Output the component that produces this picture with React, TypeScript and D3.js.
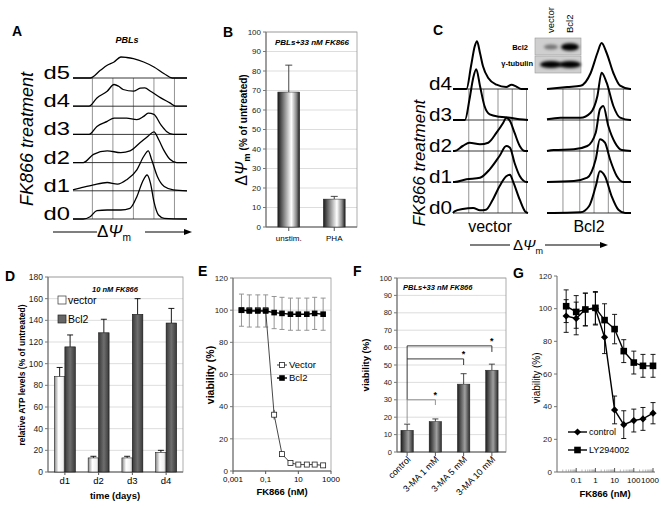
import React from "react";
import * as d3 from "d3";

const FONT = "'Liberation Sans', Arial, Helvetica, sans-serif";

// ---------- A: PBL histograms, [channel, count]
const aDays = ["d5", "d4", "d3", "d2", "d1", "d0"];
const aD5 = [[0, 0], [15, 0], [24, 7.7], [30, 12.7], [36, 16], [42, 21], [47, 20.5], [53, 19.3], [62, 16], [71, 11], [80, 4.3], [87, 0], [100, 0]];
const aD4 = [[0, 0], [14, 0], [21, 8.3], [30, 15], [36, 21.7], [40, 20], [44, 16.7], [53, 15], [59, 18], [63, 18.3], [68, 15], [77, 8.3], [85, 3.3], [90, 0], [100, 0]];
const aD3 = [[0, 0], [14, 0], [21, 8], [30, 13], [36, 16.3], [47, 16.3], [56, 14.7], [62, 18], [66, 21.3], [71, 20], [77, 9.7], [82, 3], [88, 0], [100, 0]];
const aD2 = [[0, 0], [9, 0], [18, 8.3], [30, 11.7], [42, 10], [50, 11.7], [59, 20], [66, 26.7], [71, 30.7], [75, 23.3], [80, 11.7], [85, 3.3], [91, 0], [100, 0]];
const aD1 = [[0, 1], [6, 2.7], [18, 6], [30, 8.3], [39, 6.7], [47, 11], [56, 21], [62, 34.3], [66, 40], [69, 31], [74, 14.3], [80, 4.3], [88, 1], [100, 0]];
const aD0 = [[0, 0], [9, 0], [15, 2.3], [21, 8.3], [30, 9], [42, 9], [50, 10.7], [56, 22.3], [61, 37.3], [65, 44], [68, 35.7], [71, 17.3], [75, 4], [80, 0.7], [100, 0]];
const aHists = [aD5, aD4, aD3, aD2, aD1, aD0];
const aGrid = [17, 35, 53, 71, 89];

// ---------- B
const bCats = ["unstim.", "PHA"];
const bVals = [69.2, 14.3];
const bErr = [13.8, 1.4];
const bTicks = [0, 10, 20, 30, 40, 50, 60, 70, 80, 90, 100];

// ---------- C: vector / Bcl2 histograms
const cDays = ["d4", "d3", "d2", "d1", "d0"];
const cVec4 = [[0, 0], [18, 0], [24, 22.7], [29, 42.7], [32, 47.7], [36, 36], [40, 22.7], [47, 11], [58, 4.3], [71, 2], [78, 4.3], [84, 2.7], [91, 0], [100, 0]];
const cVec3 = [[0, 0], [16, 0], [22, 20.7], [27, 42.3], [31, 50.7], [36, 34], [42, 14], [49, 5.7], [62, 3.3], [76, 2.3], [89, 0.7], [100, 0]];
const cVec2 = [[0, 0], [2, 0], [13, 5], [22, 8.3], [36, 6.7], [47, 8.3], [58, 18.3], [67, 28.3], [71, 33.3], [76, 30], [82, 18.3], [89, 5], [96, 0], [100, 0]];
const cVec1 = [[0, 0], [2, 0], [18, 2.7], [36, 4.3], [49, 12.7], [62, 26], [71, 36], [76, 34.3], [82, 19.3], [89, 6], [98, 0], [100, 0]];
const cVec0 = [[0, 0], [2, 1.7], [13, 4], [27, 5], [36, 2.7], [44, 3.3], [53, 13.3], [62, 26.7], [71, 36.7], [76, 38.3], [80, 31.7], [89, 13.3], [96, 1.7], [100, 0]];
const cBcl4 = [[0, 0], [24, 2], [40, 3.3], [52, 16], [60, 36], [65, 46], [71, 36], [79, 16], [87, 3.3], [99, 0], [100, 0]];
const cBcl3 = [[0, 0.7], [16, 2.3], [40, 2.3], [52, 7.3], [60, 24], [65, 47.3], [71, 37.3], [79, 14], [87, 2.3], [99, 0], [100, 0]];
const cBcl2 = [[0, 0], [8, 1], [32, 1.7], [48, 5], [58, 18.3], [63, 41.7], [67, 45], [73, 25], [81, 8.3], [89, 1], [100, 0]];
const cBcl1 = [[0, 0], [32, 1], [48, 4.3], [58, 22.7], [63, 42.7], [69, 39.3], [75, 22.7], [83, 6], [91, 0], [100, 0]];
const cBcl0 = [[0, 0], [8, 0], [40, 0.7], [50, 6.7], [58, 26.7], [63, 41.7], [69, 36.7], [77, 16.7], [85, 3.3], [93, 0], [100, 0]];
const cVecHists = [cVec4, cVec3, cVec2, cVec1, cVec0];
const cBclHists = [cBcl4, cBcl3, cBcl2, cBcl1, cBcl0];
const cGridL = [21, 41, 60, 79, 98];
const cGridR = [19, 39, 56, 73, 91];
const blotLanes = ["vector", "Bcl2"];
const blotBcl2 = [0.45, 1];
const blotTub = [1, 1];

// ---------- D
const dCats = ["d1", "d2", "d3", "d4"];
const dSeries = ["vector", "Bcl2"];
const dVector = [88, 13, 13, 18];
const dVectorErr = [8.5, 1.5, 1.5, 2];
const dBcl2 = [115.5, 128.5, 145.5, 137.5];
const dBcl2Err = [11, 12.5, 14.5, 13.5];
const dTicks = [0, 20, 40, 60, 80, 100, 120, 140, 160, 180];

// ---------- E
const eDose = [0.0033, 0.01, 0.033, 0.1, 0.33, 1, 3.3, 10, 33, 100, 330];
const eVector = [100, 100, 100, 100, 35, 10.5, 5, 4, 4, 4, 3.5];
const eVectorErr = [0, 0, 0, 0, 3, 1, 1, 0.5, 0.5, 0.5, 0.5];
const eBcl2 = [100, 99.5, 99.5, 99.5, 98.5, 98, 97.5, 97.5, 97.5, 98, 97.5];
const eBcl2Err = [10, 10, 10, 10, 10, 10, 10, 10, 10, 10, 10];
const eYTicks = [0, 20, 40, 60, 80, 100, 120];
const eXTicks = [0.001, 0.1, 10, 1000];
const eXLabels = ["0,001", "0,1", "10", "1000"];

// ---------- F
const fCats = ["control", "3-MA 1 mM", "3-MA 5 mM", "3-MA 10 mM"];
const fVals = [12.5, 17.5, 39, 47];
const fErr = [3.5, 1.5, 6, 3.5];
const fTicks = [0, 10, 20, 30, 40, 50, 60, 70, 80, 90, 100];
const fSig: [string, number, number][] = [["3-MA 1 mM", 30, 27], ["3-MA 5 mM", 53.5, 50], ["3-MA 10 mM", 61, 57.5]];

// ---------- G
const gDose = [0.03, 0.1, 0.3, 1, 3, 10, 30, 100, 300, 1000];
const gControl = [95.5, 94, 99.5, 100, 82.5, 38, 29, 31.5, 32.5, 36];
const gControlErr = [10, 10, 10, 10, 10, 8.5, 8.5, 7, 7, 6.5];
const gLY = [101.5, 98, 99.5, 100.5, 93, 87.5, 74, 67, 65, 65];
const gLYErr = [10, 10, 10, 10, 10, 9, 7, 7, 7, 7];
const gYTicks = [0, 20, 40, 60, 80, 100, 120];
const gXTicks = [0.1, 1, 10, 100, 1000];

const histLine = (x: any, base: number, h: any) =>
  d3.line<number[]>().x(d => x(d[0])).y(d => base - h(d[1])).curve(d3.curveMonotoneX);

const DPsi = ({ x, y, size, anchor = "middle", weight = "normal" }: any) => (
  <text x={x} y={y} fontSize={size} textAnchor={anchor} fontWeight={weight}>
    <tspan>Δ</tspan><tspan fontStyle="italic">Ψ</tspan>
    <tspan fontSize={size * 0.6} dy={size * 0.25}>m</tspan>
  </text>
);

const Arrow = ({ y, x1, x2, x3, x4 }: any) => (
  <g stroke="#000" strokeWidth={1.2}>
    <line x1={x1} x2={x2} y1={y} y2={y} />
    <line x1={x3} x2={x4 - 6} y1={y} y2={y} />
    <path d={`M${x4},${y} L${x4 - 8},${y - 3} L${x4 - 8},${y + 3} Z`} fill="#000" stroke="none" />
  </g>
);

const YAxis = ({ y, ticks, x, x2, grid = true, fs = 8 }: any) => (
  <g>
    {grid && ticks.map((t: number) => (
      <line key={"g" + t} x1={x} x2={x2} y1={y(t)} y2={y(t)} stroke="#d4d4d4" strokeWidth={0.8} />
    ))}
    {ticks.map((t: number) => (
      <g key={t}>
        <line x1={x - 3} x2={x} y1={y(t)} y2={y(t)} stroke="#555" strokeWidth={0.8} />
        <text x={x - 5} y={y(t) + fs * 0.35} fontSize={fs} textAnchor="end" fill="#222">{t}</text>
      </g>
    ))}
  </g>
);

const ErrUp = ({ x, y0, y1, w, color = "#000" }: any) => (
  <g stroke={color} strokeWidth={0.9}>
    <line x1={x} x2={x} y1={y0} y2={y1} />
    <line x1={x - w / 2} x2={x + w / 2} y1={y1} y2={y1} />
  </g>
);

const App = () => {
  // A
  const xA = d3.scaleLinear().domain([0, 100]).range([73, 187]);
  const rowA = d3.scalePoint<string>().domain(aDays).range([78, 219]);
  const hA = d3.scaleLinear().domain([0, 50]).range([0, 50]);

  // B
  const xB = d3.scaleBand<string>().domain(bCats).range([266, 357]).paddingInner(0.52).paddingOuter(0.26);
  const yB = d3.scaleLinear().domain([0, 100]).range([227, 32]);

  // C
  const xCL = d3.scaleLinear().domain([0, 100]).range([453, 528]);
  const xCR = d3.scaleLinear().domain([0, 100]).range([547, 631]);
  const rowC = d3.scalePoint<string>().domain(cDays).range([89, 213]);
  const hC = d3.scaleLinear().domain([0, 50]).range([0, 50]);
  const xBlot = d3.scalePoint<string>().domain(blotLanes).range([551, 570]);

  // D
  const xD = d3.scaleBand<string>().domain(dCats).range([48, 183]).paddingInner(0.38).paddingOuter(0.19);
  const xDs = d3.scaleBand<string>().domain(dSeries).range([0, xD.bandwidth()]).padding(0);
  const yD = d3.scaleLinear().domain([0, 180]).range([472, 277]);

  // E
  const xE = d3.scaleLog().domain([0.001, 1000]).range([233, 331]);
  const yE = d3.scaleLinear().domain([0, 120]).range([471, 278]);
  const lineE = (vals: number[]) => d3.line<number>().x((_, i) => xE(eDose[i])).y(d => yE(d))(vals) as string;

  // F
  const xF = d3.scaleBand<string>().domain(fCats).range([393, 506]).paddingInner(0.56).paddingOuter(0.28);
  const yF = d3.scaleLinear().domain([0, 100]).range([452, 278]);
  const cF = (c: string) => (xF(c) as number) + xF.bandwidth() / 2;

  // G
  const xG = d3.scaleLog().domain([0.01, 1000]).range([557, 653]);
  const yG = d3.scaleLinear().domain([0, 120]).range([472, 276]);
  const lineG = (vals: number[]) => d3.line<number>().x((_, i) => xG(gDose[i])).y(d => yG(d))(vals) as string;
  const gMinor: number[] = [];
  [0.01, 0.1, 1, 10, 100].forEach(dec => [2, 3, 4, 5, 6, 7, 8, 9].forEach(m => gMinor.push(dec * m)));
  const diamond = (cx: number, cy: number, r: number) => `M${cx},${cy - r}L${cx + r},${cy}L${cx},${cy + r}L${cx - r},${cy}Z`;

  return (
    <svg width={662} height={508} style={{ position: "absolute", left: 0, top: 0 }} fontFamily={FONT}>
      <defs>
        <linearGradient id="cylB" x1="0" x2="1" y1="0" y2="0">
          <stop offset="0" stopColor="#1a1a1a" />
          <stop offset="0.3" stopColor="#8a8a8a" />
          <stop offset="0.62" stopColor="#ffffff" />
          <stop offset="0.85" stopColor="#8a8a8a" />
          <stop offset="1" stopColor="#1a1a1a" />
        </linearGradient>
        <linearGradient id="cylW" x1="0" x2="1" y1="0" y2="0">
          <stop offset="0" stopColor="#8a8a8a" />
          <stop offset="0.4" stopColor="#ffffff" />
          <stop offset="0.8" stopColor="#f0f0f0" />
          <stop offset="1" stopColor="#9a9a9a" />
        </linearGradient>
        <linearGradient id="cylD" x1="0" x2="1" y1="0" y2="0">
          <stop offset="0" stopColor="#3a3a3a" />
          <stop offset="0.5" stopColor="#6e6e6e" />
          <stop offset="1" stopColor="#3a3a3a" />
        </linearGradient>
        <linearGradient id="cylF" x1="0" x2="1" y1="0" y2="0">
          <stop offset="0" stopColor="#1e1e1e" />
          <stop offset="0.6" stopColor="#a0a0a0" />
          <stop offset="1" stopColor="#2a2a2a" />
        </linearGradient>
        <filter id="blur" x="-50%" y="-50%" width="200%" height="200%">
          <feGaussianBlur stdDeviation="1.6" />
        </filter>
      </defs>

      {/* ---------------- A ---------------- */}
      <text x={12} y={36} fontSize={14} fontWeight="bold">A</text>
      <text x={127} y={43} fontSize={9} fontWeight="bold" fontStyle="italic" textAnchor="middle">PBLs</text>
      {aGrid.map(g => (
        <line key={g} x1={xA(g)} x2={xA(g)} y1={rowA("d5")} y2={rowA("d0")} stroke="#666" strokeWidth={0.7} />
      ))}
      {aDays.map((d, i) => {
        const base = rowA(d) as number;
        return (
          <g key={d}>
            <line x1={73} x2={187} y1={base} y2={base} stroke="#222" strokeWidth={0.9} />
            <path d={histLine(xA, base, hA)(aHists[i] as any) as string} fill="none" stroke="#000" strokeWidth={1.3} />
            <text x={70} y={base + 1} fontSize={19} textAnchor="end" transform={`translate(${70},0) scale(1.25,1) translate(${-70},0)`}>{d}</text>
          </g>
        );
      })}
      <text transform="translate(33,139) rotate(-90)" fontSize={18} fontStyle="italic" textAnchor="middle">FK866 treatment</text>
      <Arrow y={232} x1={53} x2={97} x3={145} x4={192} />
      <DPsi x={114} y={237} size={17} />

      {/* ---------------- B ---------------- */}
      <text x={223} y={37} fontSize={14} fontWeight="bold">B</text>
      <YAxis y={yB} ticks={bTicks} x={266} x2={357} />
      <rect x={266} y={32} width={91} height={195} fill="none" stroke="#999" strokeWidth={0.8} />
      <rect x={268} y={36} width={88} height={12} fill="#fff" />
      <text x={312} y={45} fontSize={8} fontWeight="bold" fontStyle="italic" textAnchor="middle">PBLs+33 nM FK866</text>
      <line x1={266} x2={266} y1={32} y2={227} stroke="#666" />
      <line x1={266} x2={357} y1={227} y2={227} stroke="#666" />
      {bCats.map((c, i) => {
        const x0 = xB(c) as number;
        const cx = x0 + xB.bandwidth() / 2;
        return (
          <g key={c}>
            <ErrUp x={cx} y0={yB(bVals[i])} y1={yB(bVals[i] + bErr[i])} w={7} color="#333" />
            <rect x={x0} y={yB(bVals[i])} width={xB.bandwidth()} height={yB(0) - yB(bVals[i])} fill="url(#cylB)" stroke="#222" strokeWidth={0.5} />
            <line x1={cx} x2={cx} y1={227} y2={231} stroke="#555" />
            <text x={cx} y={241} fontSize={8} textAnchor="middle">{c}</text>
          </g>
        );
      })}
      <g transform="translate(247,130) rotate(-90)">
        <text x={0} y={0} textAnchor="middle" fontWeight="bold">
          <tspan fontSize={16} fontWeight="normal">Δ</tspan>
          <tspan fontSize={16} fontStyle="italic" fontWeight="normal">Ψ</tspan>
          <tspan fontSize={9.5} dy={3}>m</tspan>
          <tspan fontSize={10} dy={-3}> (% of untreated)</tspan>
        </text>
      </g>

      {/* ---------------- C ---------------- */}
      <text x={433} y={35} fontSize={14} fontWeight="bold">C</text>
      {cGridL.map(g => (
        <line key={"l" + g} x1={xCL(g)} x2={xCL(g)} y1={rowC("d4")} y2={rowC("d0")} stroke="#666" strokeWidth={0.7} />
      ))}
      {cGridR.map(g => (
        <line key={"r" + g} x1={xCR(g)} x2={xCR(g)} y1={rowC("d4")} y2={rowC("d0")} stroke="#666" strokeWidth={0.7} />
      ))}
      {cDays.map((d, i) => {
        const base = rowC(d) as number;
        return (
          <g key={d}>
            <line x1={453} x2={528} y1={base} y2={base} stroke="#222" strokeWidth={0.9} />
            <line x1={547} x2={631} y1={base} y2={base} stroke="#222" strokeWidth={0.9} />
            <path d={histLine(xCL, base, hC)(cVecHists[i] as any) as string} fill="none" stroke="#000" strokeWidth={2} />
            <path d={histLine(xCR, base, hC)(cBclHists[i] as any) as string} fill="none" stroke="#000" strokeWidth={2} />
            <text x={452} y={base + 1} fontSize={18} textAnchor="end" transform={`translate(452,0) scale(1.15,1) translate(-452,0)`}>{d}</text>
          </g>
        );
      })}
      <text transform="translate(425,163) rotate(-90)" fontSize={17} fontStyle="italic" textAnchor="middle">FK866 treatment</text>
      <text x={490} y={232} fontSize={16} textAnchor="middle">vector</text>
      <text x={589} y={232} fontSize={16} textAnchor="middle">Bcl2</text>
      <Arrow y={245} x1={470} x2={510} x3={545} x4={608} />
      <DPsi x={528} y={250} size={15} />
      {/* western blot inset */}
      <rect x={535} y={38} width={46} height={17} fill="#cfcfcf" stroke="#999" strokeWidth={0.6} />
      <rect x={535} y={56} width={46} height={17} fill="#cfcfcf" stroke="#999" strokeWidth={0.6} />
      {blotLanes.map((l, i) => (
        <g key={l}>
          <ellipse cx={xBlot(l)} cy={47} rx={i === 0 ? 7 : 9} ry={i === 0 ? 2.6 : 3.8} fill={`rgba(0,0,0,${blotBcl2[i]})`} filter="url(#blur)" />
          <ellipse cx={xBlot(l)} cy={64.5} rx={11} ry={3.6} fill={`rgba(0,0,0,${blotTub[i]})`} filter="url(#blur)" />
          <text transform={`translate(${(xBlot(l) as number) + 3},33) rotate(-90)`} fontSize={9.5}>{l}</text>
        </g>
      ))}
      <text x={528} y={50} fontSize={7.5} fontWeight="bold" textAnchor="end">Bcl2</text>
      <text x={533} y={66} fontSize={7.5} fontWeight="bold" textAnchor="end">γ-tubulin</text>

      {/* ---------------- D ---------------- */}
      <text x={5} y={281} fontSize={14} fontWeight="bold">D</text>
      <YAxis y={yD} ticks={dTicks} x={48} x2={183} fs={8.5} />
      <rect x={48} y={277} width={135} height={195} fill="none" stroke="#999" strokeWidth={0.8} />
      <line x1={48} x2={48} y1={277} y2={472} stroke="#666" />
      <line x1={48} x2={183} y1={472} y2={472} stroke="#666" />
      <text x={115} y={292} fontSize={7.5} fontWeight="bold" fontStyle="italic" textAnchor="middle">10 nM FK866</text>
      {dCats.map((c, i) => {
        const g0 = xD(c) as number;
        const bw = xDs.bandwidth();
        const vx = g0 + (xDs("vector") as number);
        const bx = g0 + (xDs("Bcl2") as number);
        return (
          <g key={c}>
            <ErrUp x={vx + bw / 2} y0={yD(dVector[i])} y1={yD(dVector[i] + dVectorErr[i])} w={6} />
            <ErrUp x={bx + bw / 2} y0={yD(dBcl2[i])} y1={yD(dBcl2[i] + dBcl2Err[i])} w={6} />
            <rect x={vx} y={yD(dVector[i])} width={bw} height={yD(0) - yD(dVector[i])} fill="url(#cylW)" stroke="#222" strokeWidth={0.6} />
            <rect x={bx} y={yD(dBcl2[i])} width={bw} height={yD(0) - yD(dBcl2[i])} fill="url(#cylD)" stroke="#111" strokeWidth={0.6} />
            <line x1={g0 + xD.bandwidth() / 2} x2={g0 + xD.bandwidth() / 2} y1={472} y2={475} stroke="#555" />
            <text x={g0 + xD.bandwidth() / 2} y={484} fontSize={9.5} textAnchor="middle">{c}</text>
          </g>
        );
      })}
      <rect x={58} y={296} width={8} height={8} fill="#fff" stroke="#333" strokeWidth={0.7} />
      <text x={68} y={304} fontSize={10.5}>vector</text>
      <rect x={58} y={315} width={8} height={8} fill="#666" stroke="#222" strokeWidth={0.7} />
      <text x={68} y={323} fontSize={10.5}>Bcl2</text>
      <text x={115} y={499} fontSize={9.5} fontWeight="bold" textAnchor="middle">time (days)</text>
      <text transform="translate(25,375) rotate(-90)" fontSize={8.5} fontWeight="bold" textAnchor="middle">relative ATP levels (% of untreated)</text>

      {/* ---------------- E ---------------- */}
      <text x={198} y={276} fontSize={14} fontWeight="bold">E</text>
      <YAxis y={yE} ticks={eYTicks} x={233} x2={331} />
      <rect x={233} y={278} width={98} height={193} fill="none" stroke="#999" strokeWidth={0.8} />
      <line x1={233} x2={233} y1={278} y2={471} stroke="#666" />
      <line x1={233} x2={331} y1={471} y2={471} stroke="#666" />
      {eXTicks.map((t, i) => (
        <g key={t}>
          <line x1={xE(t)} x2={xE(t)} y1={471} y2={474} stroke="#555" />
          <text x={xE(t)} y={482} fontSize={8} textAnchor="middle">{eXLabels[i]}</text>
        </g>
      ))}
      {eDose.map((x, i) => (
        <ErrUp key={"eb" + i} x={xE(x)} y0={yE(eBcl2[i] - eBcl2Err[i])} y1={yE(eBcl2[i] + eBcl2Err[i])} w={5} color="#8a8a8a" />
      ))}
      {eDose.map((x, i) => (
        <line key={"ebl" + i} x1={xE(x) - 2.5} x2={xE(x) + 2.5} y1={yE(eBcl2[i] - eBcl2Err[i])} y2={yE(eBcl2[i] - eBcl2Err[i])} stroke="#8a8a8a" strokeWidth={0.9} />
      ))}
      {eDose.map((x, i) => eVectorErr[i] > 0 && (
        <g key={"ev" + i} stroke="#333" strokeWidth={0.8}>
          <line x1={xE(x)} x2={xE(x)} y1={yE(eVector[i] - eVectorErr[i])} y2={yE(eVector[i] + eVectorErr[i])} />
        </g>
      ))}
      <path d={lineE(eVector)} fill="none" stroke="#333" strokeWidth={0.9} />
      {eDose.map((x, i) => (
        <rect key={"evm" + i} x={xE(x) - 2.5} y={yE(eVector[i]) - 2.5} width={5} height={5} fill="#fff" stroke="#222" strokeWidth={0.8} />
      ))}
      <path d={lineE(eBcl2)} fill="none" stroke="#000" strokeWidth={1.4} />
      {eDose.map((x, i) => (
        <rect key={"ebm" + i} x={xE(x) - 2.8} y={yE(eBcl2[i]) - 2.8} width={5.6} height={5.6} fill="#000" />
      ))}
      <line x1={277} x2={287} y1={365} y2={365} stroke="#333" />
      <rect x={279.5} y={362.5} width={5} height={5} fill="#fff" stroke="#222" strokeWidth={0.8} />
      <text x={289} y={368} fontSize={9.5}>Vector</text>
      <line x1={277} x2={287} y1={378} y2={378} stroke="#000" strokeWidth={1.4} />
      <rect x={279.2} y={375.2} width={5.6} height={5.6} fill="#000" />
      <text x={289} y={381} fontSize={9.5}>Bcl2</text>
      <text x={282} y={495} fontSize={9.5} fontWeight="bold" textAnchor="middle">FK866 (nM)</text>
      <text transform="translate(214,375) rotate(-90)" fontSize={10.5} fontWeight="bold" textAnchor="middle">viability (%)</text>

      {/* ---------------- F ---------------- */}
      <text x={353} y={276} fontSize={14} fontWeight="bold">F</text>
      <YAxis y={yF} ticks={fTicks} x={397} x2={506} fs={7.5} />
      <rect x={397} y={278} width={109} height={174} fill="none" stroke="#999" strokeWidth={0.8} />
      <line x1={397} x2={397} y1={278} y2={452} stroke="#666" />
      <line x1={397} x2={506} y1={452} y2={452} stroke="#666" />
      <text x={403} y={290} fontSize={7.5} fontWeight="bold" fontStyle="italic">PBLs+33 nM FK866</text>
      {fCats.map((c, i) => {
        const x0 = xF(c) as number;
        const cx = cF(c);
        return (
          <g key={c}>
            <ErrUp x={cx} y0={yF(fVals[i])} y1={yF(fVals[i] + fErr[i])} w={6} color="#333" />
            <rect x={x0} y={yF(fVals[i])} width={xF.bandwidth()} height={yF(0) - yF(fVals[i])} fill="url(#cylF)" stroke="#222" strokeWidth={0.5} />
            <line x1={cx} x2={cx} y1={452} y2={456} stroke="#555" />
            <text transform={`translate(${cx + 4},460) rotate(-45)`} fontSize={9} textAnchor="end">{c}</text>
          </g>
        );
      })}
      <line x1={cF("control")} x2={cF("control")} y1={yF(61)} y2={yF(30)} stroke="#222" strokeWidth={0.9} />
      <line x1={cF("control")} x2={cF("control")} y1={yF(30)} y2={yF(16.5)} stroke="#888" strokeWidth={0.9} />
      {fSig.map(([c, lvl, end], i) => {
        const col = i === 0 ? "#888" : "#222";
        return (
          <g key={c}>
            <path d={`M${cF("control")},${yF(lvl)}H${cF(c)}V${yF(end)}`} fill="none" stroke={col} strokeWidth={0.9} />
            <text x={cF(c)} y={yF(lvl) - 2} fontSize={9} fontWeight="bold" textAnchor="middle">*</text>
          </g>
        );
      })}
      <text transform="translate(369,365) rotate(-90)" fontSize={9.5} fontWeight="bold" textAnchor="middle">viability (%)</text>

      {/* ---------------- G ---------------- */}
      <text x={513} y={278} fontSize={14} fontWeight="bold">G</text>
      <YAxis y={yG} ticks={gYTicks} x={557} x2={653} grid={false} fs={8} />
      <line x1={557} x2={557} y1={276} y2={472} stroke="#666" />
      <line x1={557} x2={655} y1={472} y2={472} stroke="#666" />
      {gMinor.map(m => (
        <line key={m} x1={xG(m)} x2={xG(m)} y1={472} y2={469.5} stroke="#888" strokeWidth={0.6} />
      ))}
      {gXTicks.map(t => (
        <g key={t}>
          <line x1={xG(t)} x2={xG(t)} y1={472} y2={468} stroke="#555" />
          <text x={t === 1000 ? xG(t) - 3 : xG(t)} y={483} fontSize={8} textAnchor="middle">{t}</text>
        </g>
      ))}
      {gDose.map((x, i) => (
        <g key={"ge" + i}>
          <ErrUp x={xG(x)} y0={yG(gControl[i] - gControlErr[i])} y1={yG(gControl[i] + gControlErr[i])} w={5} />
          <line x1={xG(x) - 2.5} x2={xG(x) + 2.5} y1={yG(gControl[i] - gControlErr[i])} y2={yG(gControl[i] - gControlErr[i])} stroke="#000" strokeWidth={0.9} />
          <ErrUp x={xG(x)} y0={yG(gLY[i] - gLYErr[i])} y1={yG(gLY[i] + gLYErr[i])} w={5} />
          <line x1={xG(x) - 2.5} x2={xG(x) + 2.5} y1={yG(gLY[i] - gLYErr[i])} y2={yG(gLY[i] - gLYErr[i])} stroke="#000" strokeWidth={0.9} />
        </g>
      ))}
      <path d={lineG(gControl)} fill="none" stroke="#000" strokeWidth={1.4} />
      <path d={lineG(gLY)} fill="none" stroke="#000" strokeWidth={1.4} />
      {gDose.map((x, i) => (
        <path key={"gc" + i} d={diamond(xG(x), yG(gControl[i]), 3.6)} fill="#000" />
      ))}
      {gDose.map((x, i) => (
        <rect key={"gl" + i} x={xG(x) - 3.3} y={yG(gLY[i]) - 3.3} width={6.6} height={6.6} fill="#000" />
      ))}
      <line x1={568} x2={587} y1={432} y2={432} stroke="#000" strokeWidth={1.4} />
      <path d={diamond(577.5, 432, 3.6)} fill="#000" />
      <text x={589} y={435} fontSize={9}>control</text>
      <line x1={568} x2={587} y1={450} y2={450} stroke="#000" strokeWidth={1.4} />
      <rect x={574.2} y={446.7} width={6.6} height={6.6} fill="#000" />
      <text x={589} y={453} fontSize={9}>LY294002</text>
      <text x={605} y={497} fontSize={9.5} fontWeight="bold" textAnchor="middle">FK866 (nM)</text>
      <text transform="translate(540,378) rotate(-90)" fontSize={10} textAnchor="middle">viability (%)</text>
    </svg>
  );
};

export default App;
